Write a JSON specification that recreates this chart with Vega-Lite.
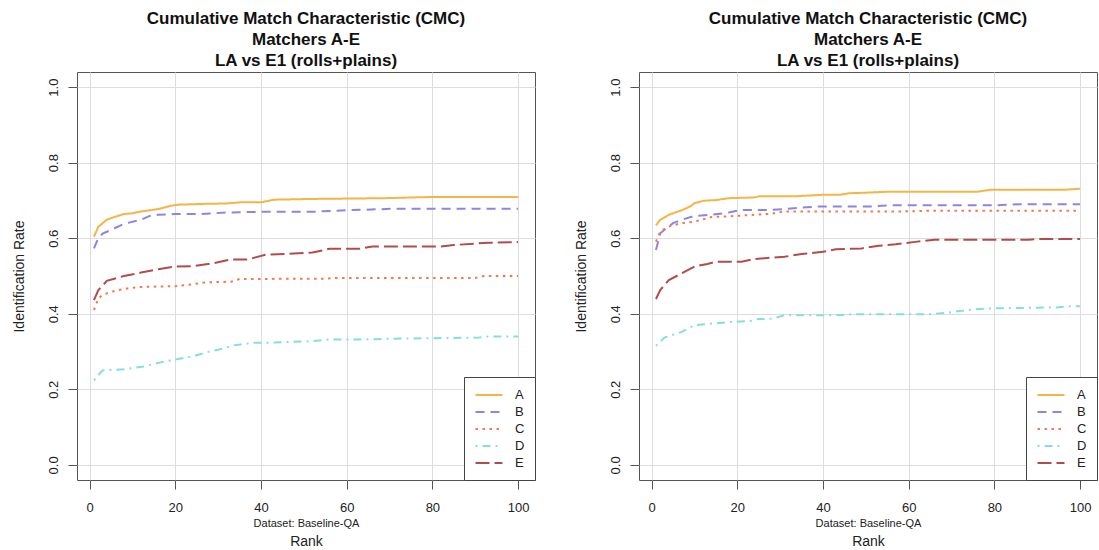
{
  "$schema": "https://vega.github.io/schema/vega-lite/v6.json",
  "autosize": {"type": "pad"},
  "padding": {"left": 11, "top": 9, "right": 0, "bottom": 0},
  "config": {
    "font": "Liberation Sans",
    "view": {"stroke": "#555555", "strokeWidth": 1},
    "axis": {"domain": false, "tickColor": "#555555", "tickSize": 9, "labelPadding": 12, "labelFontSize": 13, "labelColor": "#222222", "gridColor": "#dddddd", "gridWidth": 1, "titleFontWeight": "normal", "titleColor": "#222222"},
    "legend": {"orient": "bottom-right", "offset": 0, "padding": 10, "strokeColor": "#444444", "fillColor": "white", "symbolType": "M-2,0H2", "symbolSize": 182, "symbolOffset": 7, "symbolStrokeWidth": 2, "labelFontSize": 13, "labelColor": "#222222", "rowPadding": 2, "labelOffset": 18}
  },
  "datasets": {
    "left": [
      {"rank":1,"rate":0.604,"matcher":"A"},{"rank":2,"rate":0.630,"matcher":"A"},{"rank":4,"rate":0.649,"matcher":"A"},{"rank":6,"rate":0.657,"matcher":"A"},{"rank":8,"rate":0.664,"matcher":"A"},{"rank":10,"rate":0.666,"matcher":"A"},{"rank":12,"rate":0.671,"matcher":"A"},{"rank":16,"rate":0.677,"matcher":"A"},{"rank":19,"rate":0.686,"matcher":"A"},{"rank":21,"rate":0.689,"matcher":"A"},{"rank":27,"rate":0.691,"matcher":"A"},{"rank":32,"rate":0.692,"matcher":"A"},{"rank":35,"rate":0.695,"matcher":"A"},{"rank":40,"rate":0.695,"matcher":"A"},{"rank":43,"rate":0.702,"matcher":"A"},{"rank":52,"rate":0.704,"matcher":"A"},{"rank":69,"rate":0.706,"matcher":"A"},{"rank":79,"rate":0.709,"matcher":"A"},{"rank":100,"rate":0.709,"matcher":"A"},
      {"rank":1,"rate":0.573,"matcher":"B"},{"rank":2,"rate":0.600,"matcher":"B"},{"rank":3,"rate":0.612,"matcher":"B"},{"rank":5,"rate":0.622,"matcher":"B"},{"rank":8,"rate":0.638,"matcher":"B"},{"rank":12,"rate":0.649,"matcher":"B"},{"rank":14,"rate":0.659,"matcher":"B"},{"rank":16,"rate":0.662,"matcher":"B"},{"rank":20,"rate":0.664,"matcher":"B"},{"rank":26,"rate":0.664,"matcher":"B"},{"rank":32,"rate":0.668,"matcher":"B"},{"rank":40,"rate":0.670,"matcher":"B"},{"rank":52,"rate":0.670,"matcher":"B"},{"rank":60,"rate":0.674,"matcher":"B"},{"rank":71,"rate":0.678,"matcher":"B"},{"rank":100,"rate":0.678,"matcher":"B"},
      {"rank":1,"rate":0.410,"matcher":"C"},{"rank":2,"rate":0.440,"matcher":"C"},{"rank":3,"rate":0.450,"matcher":"C"},{"rank":5,"rate":0.458,"matcher":"C"},{"rank":8,"rate":0.466,"matcher":"C"},{"rank":12,"rate":0.471,"matcher":"C"},{"rank":20,"rate":0.473,"matcher":"C"},{"rank":24,"rate":0.478,"matcher":"C"},{"rank":27,"rate":0.483,"matcher":"C"},{"rank":33,"rate":0.485,"matcher":"C"},{"rank":35,"rate":0.492,"matcher":"C"},{"rank":55,"rate":0.493,"matcher":"C"},{"rank":58,"rate":0.495,"matcher":"C"},{"rank":90,"rate":0.495,"matcher":"C"},{"rank":92,"rate":0.500,"matcher":"C"},{"rank":100,"rate":0.500,"matcher":"C"},
      {"rank":1,"rate":0.224,"matcher":"D"},{"rank":3,"rate":0.250,"matcher":"D"},{"rank":8,"rate":0.253,"matcher":"D"},{"rank":13,"rate":0.261,"matcher":"D"},{"rank":16,"rate":0.270,"matcher":"D"},{"rank":20,"rate":0.279,"matcher":"D"},{"rank":24,"rate":0.287,"matcher":"D"},{"rank":28,"rate":0.300,"matcher":"D"},{"rank":30,"rate":0.305,"matcher":"D"},{"rank":34,"rate":0.317,"matcher":"D"},{"rank":38,"rate":0.323,"matcher":"D"},{"rank":41,"rate":0.323,"matcher":"D"},{"rank":51,"rate":0.327,"matcher":"D"},{"rank":56,"rate":0.332,"matcher":"D"},{"rank":63,"rate":0.332,"matcher":"D"},{"rank":71,"rate":0.334,"matcher":"D"},{"rank":91,"rate":0.337,"matcher":"D"},{"rank":93,"rate":0.340,"matcher":"D"},{"rank":100,"rate":0.340,"matcher":"D"},
      {"rank":1,"rate":0.436,"matcher":"E"},{"rank":2,"rate":0.462,"matcher":"E"},{"rank":4,"rate":0.487,"matcher":"E"},{"rank":8,"rate":0.500,"matcher":"E"},{"rank":12,"rate":0.509,"matcher":"E"},{"rank":16,"rate":0.518,"matcher":"E"},{"rank":20,"rate":0.525,"matcher":"E"},{"rank":24,"rate":0.526,"matcher":"E"},{"rank":29,"rate":0.534,"matcher":"E"},{"rank":33,"rate":0.544,"matcher":"E"},{"rank":37,"rate":0.544,"matcher":"E"},{"rank":41,"rate":0.556,"matcher":"E"},{"rank":52,"rate":0.562,"matcher":"E"},{"rank":56,"rate":0.572,"matcher":"E"},{"rank":63,"rate":0.572,"matcher":"E"},{"rank":66,"rate":0.578,"matcher":"E"},{"rank":82,"rate":0.578,"matcher":"E"},{"rank":85,"rate":0.582,"matcher":"E"},{"rank":93,"rate":0.588,"matcher":"E"},{"rank":100,"rate":0.590,"matcher":"E"}
    ],
    "right": [
      {"rank":1,"rate":0.634,"matcher":"A"},{"rank":2,"rate":0.649,"matcher":"A"},{"rank":4,"rate":0.662,"matcher":"A"},{"rank":7,"rate":0.674,"matcher":"A"},{"rank":9,"rate":0.684,"matcher":"A"},{"rank":10,"rate":0.693,"matcher":"A"},{"rank":12,"rate":0.699,"matcher":"A"},{"rank":15,"rate":0.701,"matcher":"A"},{"rank":18,"rate":0.706,"matcher":"A"},{"rank":24,"rate":0.708,"matcher":"A"},{"rank":25,"rate":0.711,"matcher":"A"},{"rank":34,"rate":0.711,"matcher":"A"},{"rank":35,"rate":0.712,"matcher":"A"},{"rank":40,"rate":0.715,"matcher":"A"},{"rank":44,"rate":0.715,"matcher":"A"},{"rank":46,"rate":0.719,"matcher":"A"},{"rank":51,"rate":0.721,"matcher":"A"},{"rank":55,"rate":0.723,"matcher":"A"},{"rank":76,"rate":0.723,"matcher":"A"},{"rank":79,"rate":0.728,"matcher":"A"},{"rank":96,"rate":0.728,"matcher":"A"},{"rank":100,"rate":0.731,"matcher":"A"},
      {"rank":1,"rate":0.569,"matcher":"B"},{"rank":2,"rate":0.613,"matcher":"B"},{"rank":5,"rate":0.640,"matcher":"B"},{"rank":7,"rate":0.649,"matcher":"B"},{"rank":10,"rate":0.659,"matcher":"B"},{"rank":14,"rate":0.662,"matcher":"B"},{"rank":18,"rate":0.668,"matcher":"B"},{"rank":21,"rate":0.675,"matcher":"B"},{"rank":28,"rate":0.675,"matcher":"B"},{"rank":34,"rate":0.680,"matcher":"B"},{"rank":39,"rate":0.684,"matcher":"B"},{"rank":51,"rate":0.684,"matcher":"B"},{"rank":55,"rate":0.687,"matcher":"B"},{"rank":80,"rate":0.687,"matcher":"B"},{"rank":86,"rate":0.690,"matcher":"B"},{"rank":100,"rate":0.690,"matcher":"B"},
      {"rank":1,"rate":0.591,"matcher":"C"},{"rank":2,"rate":0.618,"matcher":"C"},{"rank":4,"rate":0.631,"matcher":"C"},{"rank":7,"rate":0.640,"matcher":"C"},{"rank":10,"rate":0.644,"matcher":"C"},{"rank":14,"rate":0.656,"matcher":"C"},{"rank":18,"rate":0.658,"matcher":"C"},{"rank":21,"rate":0.660,"matcher":"C"},{"rank":28,"rate":0.665,"matcher":"C"},{"rank":31,"rate":0.671,"matcher":"C"},{"rank":59,"rate":0.671,"matcher":"C"},{"rank":66,"rate":0.673,"matcher":"C"},{"rank":100,"rate":0.673,"matcher":"C"},
      {"rank":1,"rate":0.315,"matcher":"D"},{"rank":3,"rate":0.337,"matcher":"D"},{"rank":7,"rate":0.352,"matcher":"D"},{"rank":10,"rate":0.370,"matcher":"D"},{"rank":14,"rate":0.374,"matcher":"D"},{"rank":18,"rate":0.378,"matcher":"D"},{"rank":23,"rate":0.381,"matcher":"D"},{"rank":25,"rate":0.386,"matcher":"D"},{"rank":28,"rate":0.387,"matcher":"D"},{"rank":31,"rate":0.396,"matcher":"D"},{"rank":43,"rate":0.396,"matcher":"D"},{"rank":47,"rate":0.399,"matcher":"D"},{"rank":65,"rate":0.399,"matcher":"D"},{"rank":69,"rate":0.403,"matcher":"D"},{"rank":73,"rate":0.409,"matcher":"D"},{"rank":78,"rate":0.414,"matcher":"D"},{"rank":95,"rate":0.417,"matcher":"D"},{"rank":97,"rate":0.420,"matcher":"D"},{"rank":100,"rate":0.420,"matcher":"D"},
      {"rank":1,"rate":0.439,"matcher":"E"},{"rank":2,"rate":0.463,"matcher":"E"},{"rank":4,"rate":0.489,"matcher":"E"},{"rank":7,"rate":0.507,"matcher":"E"},{"rank":10,"rate":0.525,"matcher":"E"},{"rank":13,"rate":0.532,"matcher":"E"},{"rank":15,"rate":0.538,"matcher":"E"},{"rank":21,"rate":0.538,"matcher":"E"},{"rank":24,"rate":0.545,"matcher":"E"},{"rank":31,"rate":0.551,"matcher":"E"},{"rank":35,"rate":0.558,"matcher":"E"},{"rank":40,"rate":0.564,"matcher":"E"},{"rank":43,"rate":0.571,"matcher":"E"},{"rank":49,"rate":0.573,"matcher":"E"},{"rank":53,"rate":0.580,"matcher":"E"},{"rank":57,"rate":0.584,"matcher":"E"},{"rank":62,"rate":0.591,"matcher":"E"},{"rank":66,"rate":0.596,"matcher":"E"},{"rank":88,"rate":0.596,"matcher":"E"},{"rank":90,"rate":0.598,"matcher":"E"},{"rank":100,"rate":0.598,"matcher":"E"}
    ]
  },
  "bounds": "flush",
  "spacing": 104,
  "hconcat": [
    {
      "width": 458, "height": 408,
      "title": {"text": ["Cumulative Match Characteristic (CMC)", "Matchers A-E", "LA vs E1 (rolls+plains)"], "fontSize": 17, "fontWeight": "bold", "lineHeight": 21, "offset": 2, "anchor": "middle", "color": "#111111"},
      "layer": [
        {
          "data": {"name": "left"},
          "mark": {"type": "line", "strokeWidth": 2},
          "encoding": {
            "x": {"field": "rank", "type": "quantitative", "scale": {"domain": [-2.96, 103.96], "nice": false, "zero": false}, "axis": {"values": [0, 20, 40, 60, 80, 100], "format": "d", "title": "Dataset: Baseline-QA", "titleFontSize": 11, "titlePadding": 3}},
            "y": {"field": "rate", "type": "quantitative", "scale": {"domain": [-0.04, 1.04], "nice": false, "zero": false}, "axis": {"values": [0, 0.2, 0.4, 0.6, 0.8, 1.0], "format": ".1f", "labelAngle": -90, "labelPadding": 8, "title": "Identification Rate", "titleFontSize": 14, "titlePadding": 21}},
            "color": {"field": "matcher", "type": "nominal", "scale": {"domain": ["A", "B", "C", "D", "E"], "range": ["#F5B445", "#8E84E4", "#F2794E", "#84E0D6", "#B24C4C"]}, "legend": {"title": null}},
            "strokeDash": {"field": "matcher", "type": "nominal", "scale": {"domain": ["A", "B", "C", "D", "E"], "range": [[1, 0], [9, 6], [2.5, 4.5], [2, 5, 8, 5], [14, 5]]}, "legend": {"title": null}}
          }
        },
        {
          "data": {"name": "left"},
          "mark": {"type": "line", "opacity": 0},
          "encoding": {
            "x": {"field": "rank", "type": "quantitative", "scale": {"domain": [-2.96, 103.96], "nice": false, "zero": false}, "axis": {"orient": "bottom", "labels": false, "ticks": false, "grid": false, "title": "Rank", "titleFontSize": 14, "titlePadding": 54}},
            "y": {"field": "rate", "type": "quantitative", "scale": {"domain": [-0.04, 1.04], "nice": false, "zero": false}}
          }
        }
      ],
      "resolve": {"axis": {"x": "independent"}}
    },
    {
      "width": 458, "height": 408,
      "title": {"text": ["Cumulative Match Characteristic (CMC)", "Matchers A-E", "LA vs E1 (rolls+plains)"], "fontSize": 17, "fontWeight": "bold", "lineHeight": 21, "offset": 2, "anchor": "middle", "color": "#111111"},
      "layer": [
        {
          "data": {"name": "right"},
          "mark": {"type": "line", "strokeWidth": 2},
          "encoding": {
            "x": {"field": "rank", "type": "quantitative", "scale": {"domain": [-2.96, 103.96], "nice": false, "zero": false}, "axis": {"values": [0, 20, 40, 60, 80, 100], "format": "d", "title": "Dataset: Baseline-QA", "titleFontSize": 11, "titlePadding": 3}},
            "y": {"field": "rate", "type": "quantitative", "scale": {"domain": [-0.04, 1.04], "nice": false, "zero": false}, "axis": {"values": [0, 0.2, 0.4, 0.6, 0.8, 1.0], "format": ".1f", "labelAngle": -90, "labelPadding": 8, "title": "Identification Rate", "titleFontSize": 14, "titlePadding": 21}},
            "color": {"field": "matcher", "type": "nominal", "scale": {"domain": ["A", "B", "C", "D", "E"], "range": ["#F5B445", "#8E84E4", "#F2794E", "#84E0D6", "#B24C4C"]}, "legend": {"title": null}},
            "strokeDash": {"field": "matcher", "type": "nominal", "scale": {"domain": ["A", "B", "C", "D", "E"], "range": [[1, 0], [9, 6], [2.5, 4.5], [2, 5, 8, 5], [14, 5]]}, "legend": {"title": null}}
          }
        },
        {
          "data": {"name": "right"},
          "mark": {"type": "line", "opacity": 0},
          "encoding": {
            "x": {"field": "rank", "type": "quantitative", "scale": {"domain": [-2.96, 103.96], "nice": false, "zero": false}, "axis": {"orient": "bottom", "labels": false, "ticks": false, "grid": false, "title": "Rank", "titleFontSize": 14, "titlePadding": 54}},
            "y": {"field": "rate", "type": "quantitative", "scale": {"domain": [-0.04, 1.04], "nice": false, "zero": false}}
          }
        }
      ],
      "resolve": {"axis": {"x": "independent"}}
    }
  ],
  "resolve": {"scale": {"color": "independent", "strokeDash": "independent"}, "legend": {"color": "independent", "strokeDash": "independent"}}
}
